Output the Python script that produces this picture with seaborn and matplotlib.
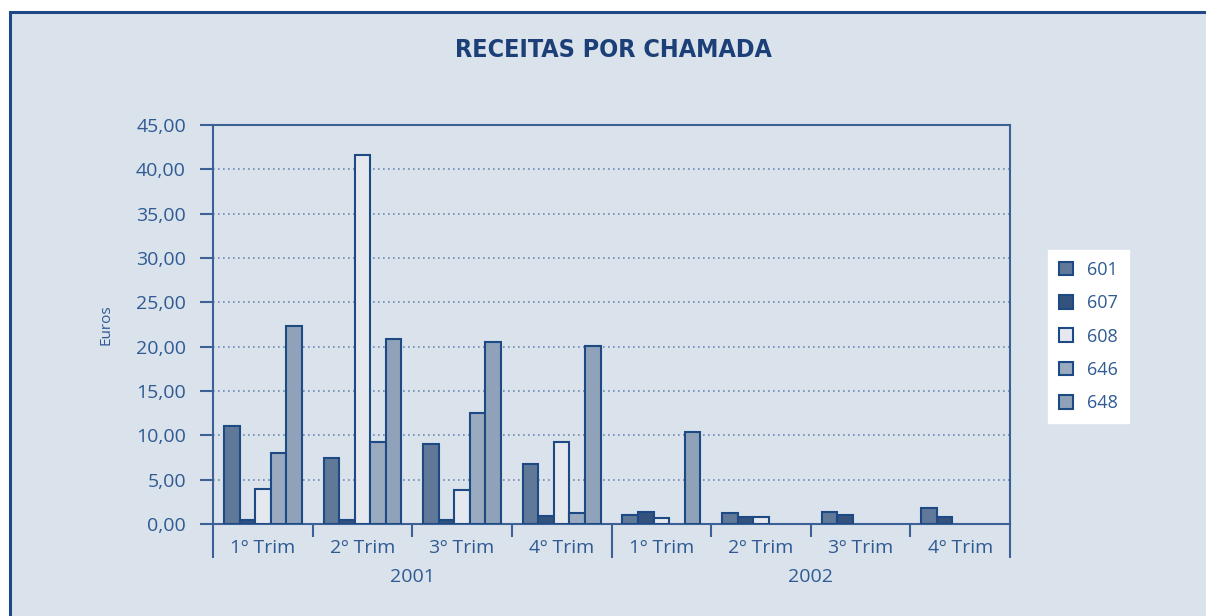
import numpy as np
import pandas as pd
import matplotlib
matplotlib.use("Agg")
import matplotlib.pyplot as plt
import matplotlib.transforms as mtransforms
from matplotlib.patches import Rectangle
import seaborn as sns

# valores (Euros por chamada)
trimestres = ['1º Trim', '2º Trim', '3º Trim', '4º Trim']
anos = ['2001', '2002']
periodos = [a + ' ' + t for a in anos for t in trimestres]
series = ['601', '607', '608', '646', '648']
v601 = [11.0, 7.5, 9.0, 6.8, 1.0, 1.2, 1.4, 1.8]
v607 = [0.45, 0.45, 0.5, 0.9, 1.4, 0.8, 1.0, 0.8]
v608 = [4.0, 41.6, 3.85, 9.2, 0.65, 0.8, np.nan, np.nan]
v646 = [8.05, 9.2, 12.5, 1.2, np.nan, np.nan, np.nan, np.nan]
v648 = [22.3, 20.9, 20.5, 20.1, 10.4, np.nan, np.nan, np.nan]

valores = {'601': v601, '607': v607, '608': v608, '646': v646, '648': v648}
df = pd.DataFrame([(p, s, valores[s][i]) for s in series for i, p in enumerate(periodos)],
                  columns=['periodo', 'serie', 'valor'])
df = df.dropna()

bg = '#dae2eb'
navy = '#1d4a85'
txt = '#2f5a93'
cores = {'601': '#5878a2', '607': '#26508a', '608': '#e3e9f1', '646': '#94aac6', '648': '#88a1c0'}

plt.rcParams['font.family'] = ['Open Sans', 'DejaVu Sans']

fig = plt.figure(figsize=(12.06, 6.16), dpi=100)
fig.patch.set_facecolor('white')
fig.patches.append(Rectangle((10 / 1206, -0.1), 1.2, 1 - 12 / 616 + 0.1, transform=fig.transFigure,
                             facecolor=bg, edgecolor=navy, linewidth=2.2, zorder=-1))

ax = fig.add_axes([213 / 1206, 92 / 616, 797 / 1206, 399 / 616])
ax.set_facecolor('none')

sns.barplot(data=df, x='periodo', y='valor', hue='serie', order=periodos, hue_order=series,
            palette=cores, edgecolor=navy, linewidth=1.5, width=0.78, ax=ax, zorder=3)

ax.set_xlim(-0.5, 7.5)
ax.set_ylim(0, 45)
ax.set_yticks(np.arange(0, 46, 5))
ax.set_yticklabels([f'{v:.2f}'.replace('.', ',') for v in np.arange(0, 46, 5)])
ax.set_xticks(range(8))
ax.set_xticklabels(trimestres * 2)
ax.set_xticks(np.arange(-0.5, 8, 1), minor=True)

for s in ax.spines.values():
    s.set_color('#3c6197')
    s.set_linewidth(1.5)

ax.yaxis.grid(True, linestyle=(0, (1, 2)), color='#6d8bb3', linewidth=1.2)
ax.set_axisbelow(True)

ax.tick_params(axis='y', direction='out', length=9.5, width=1.5, color='#3c6197',
               labelsize=14, labelcolor=txt, pad=10)
ax.tick_params(axis='x', which='major', length=0, labelsize=14, labelcolor=txt, pad=11)
ax.tick_params(axis='x', which='minor', direction='out', length=9.5, width=1.5, color='#3c6197')
for i, tk in enumerate(ax.xaxis.get_minor_ticks()):
    if i in (0, 4, 8):
        tk.tick1line.set_markersize(24.5)

ax.set_xlabel('')
ax.set_ylabel('Euros', fontsize=11, color=txt)
ax.yaxis.set_label_coords(-0.125, 0.5)

trans = mtransforms.blended_transform_factory(ax.transData, ax.transAxes)
for j, a in enumerate(anos):
    ax.text(1.5 + 4 * j, -0.133, a, transform=trans, ha='center', va='center',
            fontsize=14, color=txt)

handles, labels = ax.get_legend_handles_labels()
leg = ax.legend(handles, labels, loc='upper left', bbox_to_anchor=(1048 / 1206, 1 - 250 / 616),
                bbox_transform=fig.transFigure, frameon=True, framealpha=1, fontsize=13,
                handlelength=0.78, handleheight=0.78, handletextpad=0.8, labelspacing=0.85,
                borderpad=0.6, borderaxespad=0, fancybox=False)
leg.get_frame().set_facecolor('white')
leg.get_frame().set_edgecolor('white')
for t in leg.get_texts():
    t.set_color(txt)

fig.text(613 / 1206, 1 - 50 / 616, 'RECEITAS POR CHAMADA', ha='center', va='center',
         fontsize=18, fontweight='bold', color='#1c3f78',
         family=['DejaVu Sans'], fontstretch='condensed')

fig.savefig('out.png', dpi=100, facecolor=fig.get_facecolor())
